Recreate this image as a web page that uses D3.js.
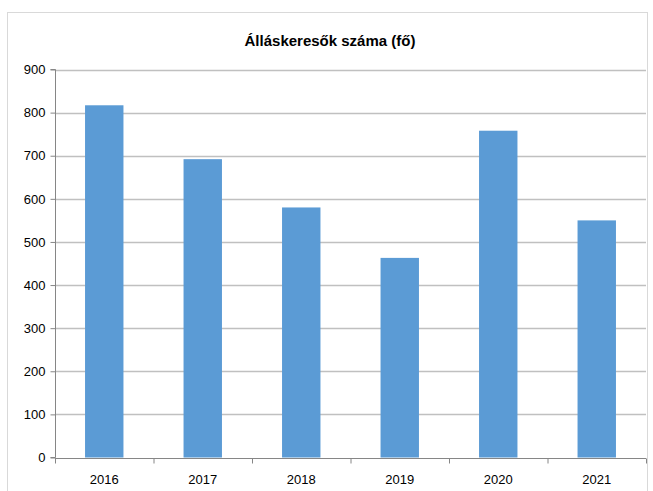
<!DOCTYPE html>
<html>
<head>
<meta charset="utf-8">
<script src="https://cdn.jsdelivr.net/npm/d3@7"></script>
<style>
  body { margin: 0; background: #fff; }
  text { font-family: 'Liberation Sans', Arial, sans-serif; }
</style>
</head>
<body>
<div id="chart-area"></div>
<script>
const title = 'Álláskeresők száma (fő)';
const years = ['2016', '2017', '2018', '2019', '2020', '2021'];
const values = [817, 692, 580, 463, 758, 550];
const yTicks = [0, 100, 200, 300, 400, 500, 600, 700, 800, 900];

let width = 653;
let height = 491;
let margin = { top: 69.5, right: 7, bottom: 33.5, left: 55 };

let svg = d3
  .select('#chart-area')
  .append('svg')
  .attr('width', width)
  .attr('height', height);

//outer frame of the chart area
svg
  .append('rect')
  .attr('x', 7.5)
  .attr('y', 12.5)
  .attr('width', 640)
  .attr('height', 490)
  .attr('fill', 'none')
  .attr('stroke', '#d9d9d9');

svg
  .append('text')
  .attr('x', 330)
  .attr('y', 46)
  .attr('text-anchor', 'middle')
  .style('font-weight', 'bold')
  .style('font-size', '15px')
  .attr('fill', '#000')
  .text(title);

let x = d3
  .scaleBand()
  .domain(years)
  .range([margin.left, width - margin.right])
  .paddingInner(0.61)
  .paddingOuter(0.305);

let xCat = d3.scaleBand().domain(years).range([margin.left, width - margin.right]);

let y = d3
  .scaleLinear()
  .domain([0, 900])
  .range([height - margin.bottom, margin.top]);

//gridlines
svg
  .append('g')
  .selectAll('line')
  .data(yTicks.filter((d) => d > 0))
  .enter()
  .append('line')
  .attr('x1', margin.left)
  .attr('x2', width - margin.right)
  .attr('y1', (d) => Math.round(y(d)) + 0.5)
  .attr('y2', (d) => Math.round(y(d)) + 0.5)
  .attr('stroke', '#c0c0c0')
  .attr('stroke-width', 1.3);

//bars
svg
  .append('g')
  .selectAll('rect')
  .data(values)
  .enter()
  .append('rect')
  .attr('x', (d, i) => x(years[i]))
  .attr('y', (d) => y(d))
  .attr('width', x.bandwidth())
  .attr('height', (d) => y(0) - y(d))
  .attr('fill', '#5b9bd5');

//y axis
let yAxis = svg
  .append('g')
  .attr('transform', `translate(${margin.left + 0.5},0)`)
  .call(d3.axisLeft(y).tickValues(yTicks).tickSize(5).tickPadding(5));
yAxis.select('.domain').attr('stroke', '#868686').attr('d', `M-5,${y(0)}H0V${y(900)}H-5`);
yAxis.selectAll('.tick line').attr('stroke', '#868686');
yAxis.selectAll('.tick text').style('font-size', '13px').attr('fill', '#000').attr('font-family', null);

//x axis with ticks between categories
let xAxis = svg.append('g').attr('transform', `translate(0,${Math.round(y(0)) + 0.5})`);
xAxis
  .append('line')
  .attr('x1', margin.left)
  .attr('x2', width - margin.right)
  .attr('stroke', '#868686');
xAxis
  .selectAll('.sep')
  .data(years.concat(['end']))
  .enter()
  .append('line')
  .attr('class', 'sep')
  .attr('x1', (d, i) => (i < years.length ? xCat(d) : width - margin.right) + 0.5)
  .attr('x2', (d, i) => (i < years.length ? xCat(d) : width - margin.right) + 0.5)
  .attr('y2', 5)
  .attr('stroke', '#868686');
xAxis
  .selectAll('.lbl')
  .data(years)
  .enter()
  .append('text')
  .attr('class', 'lbl')
  .attr('x', (d) => xCat(d) + xCat.bandwidth() / 2)
  .attr('y', 25)
  .attr('text-anchor', 'middle')
  .style('font-size', '13px')
  .attr('fill', '#000')
  .text((d) => d);
</script>
</body>
</html>
